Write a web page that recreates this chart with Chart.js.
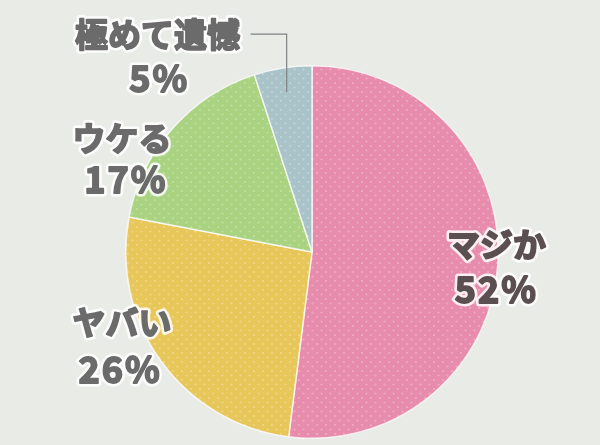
<!DOCTYPE html>
<html>
<head>
<meta charset="utf-8">
<script src="https://cdn.jsdelivr.net/npm/chart.js@4"></script>
<style>
  html, body { margin: 0; padding: 0; background: #e9ebe7; }
  #wrap { width: 600px; height: 445px; position: relative; }
</style>
</head>
<body>
<div id="wrap"><canvas id="pie"></canvas></div>
<script>
// ===== data =====
const labels = ['マジか', 'ヤバい', 'ウケる', '極めて遺憾'];
const values = [52, 26, 17, 5];
const sliceColors = ['#e78cad', '#e8c75a', '#a9d281', '#aac3c9'];

// label placement, in units of the pie radius from its centre
const labelSpots = [
  { name: [0.99, -0.04], pct: [0.99, 0.20] },
  { name: [-1.02, 0.38], pct: [-1.03, 0.63] },
  { name: [-1.02, -0.61], pct: [-1.0, -0.39] },
  { name: [-0.83, -1.17], pct: [-0.82, -0.93] }
];

// white polka-dot fill like the printed chart
function dotted(color) {
  const c = document.createElement('canvas');
  c.width = 9; c.height = 9;
  const g = c.getContext('2d');
  g.fillStyle = color;
  g.fillRect(0, 0, 9, 9);
  g.fillStyle = 'rgba(255,255,255,0.28)';
  g.beginPath();
  g.arc(2, 2, 1.1, 0, Math.PI * 2);
  g.arc(6.5, 6.5, 1.1, 0, Math.PI * 2);
  g.fill();
  return g.createPattern(c, 'repeat');
}

const pieLabels = {
  id: 'pieLabels',
  afterDraw(chart) {
    const ctx = chart.ctx;
    const arcs = chart.getDatasetMeta(0).data;
    const cx = arcs[0].x, cy = arcs[0].y, r = arcs[0].outerRadius;

    // leader line for the small slice
    const a = arcs[3];
    const mid = (a.startAngle + a.endAngle) / 2;
    const ex = cx + Math.cos(mid) * r * 0.87;
    const ey = cy + Math.sin(mid) * r * 0.87;
    ctx.save();
    ctx.strokeStyle = '#7d8384';
    ctx.lineWidth = 1.2;
    ctx.beginPath();
    ctx.moveTo(cx + (-0.33) * r, cy - 1.17 * r);
    ctx.lineTo(ex, cy - 1.17 * r);
    ctx.lineTo(ex, ey);
    ctx.stroke();
    ctx.restore();

    ctx.save();
    ctx.textAlign = 'center';
    ctx.textBaseline = 'middle';
    ctx.lineJoin = 'round';
    labels.forEach((lab, i) => {
      const s = labelSpots[i];
      const dark = i === 0 ? '#5c4f51' : '#6b6b6b';
      [[lab, s.name, 'bold 33px "Noto Sans CJK JP"', '0px'],
       [values[i] + '%', s.pct, 'bold 36px "Noto Sans CJK JP"', '2px']].forEach(([txt, p, font, sp]) => {
        ctx.font = font;
        ctx.letterSpacing = sp;
        const x = cx + p[0] * r, y = cy + p[1] * r;
        ctx.strokeStyle = 'rgba(255,255,255,0.85)';
        ctx.lineWidth = 7;
        ctx.strokeText(txt, x, y);
        // extra stroke to get the heavy printed weight
        ctx.strokeStyle = dark;
        ctx.lineWidth = 1.8;
        ctx.strokeText(txt, x, y);
        ctx.fillStyle = dark;
        ctx.fillText(txt, x, y);
      });
    });
    ctx.restore();
  }
};

new Chart(document.getElementById('pie'), {
  type: 'pie',
  data: {
    labels: labels,
    datasets: [{
      data: values,
      backgroundColor: sliceColors.map(dotted),
      borderColor: 'rgba(255,255,255,0.75)',
      borderWidth: 1.5
    }]
  },
  options: {
    responsive: true,
    maintainAspectRatio: false,
    animation: false,
    layout: { padding: { top: 65, bottom: 6, left: 125, right: 101 } },
    plugins: {
      legend: { display: false },
      tooltip: { enabled: false }
    }
  },
  plugins: [pieLabels]
});
</script>
</body>
</html>
